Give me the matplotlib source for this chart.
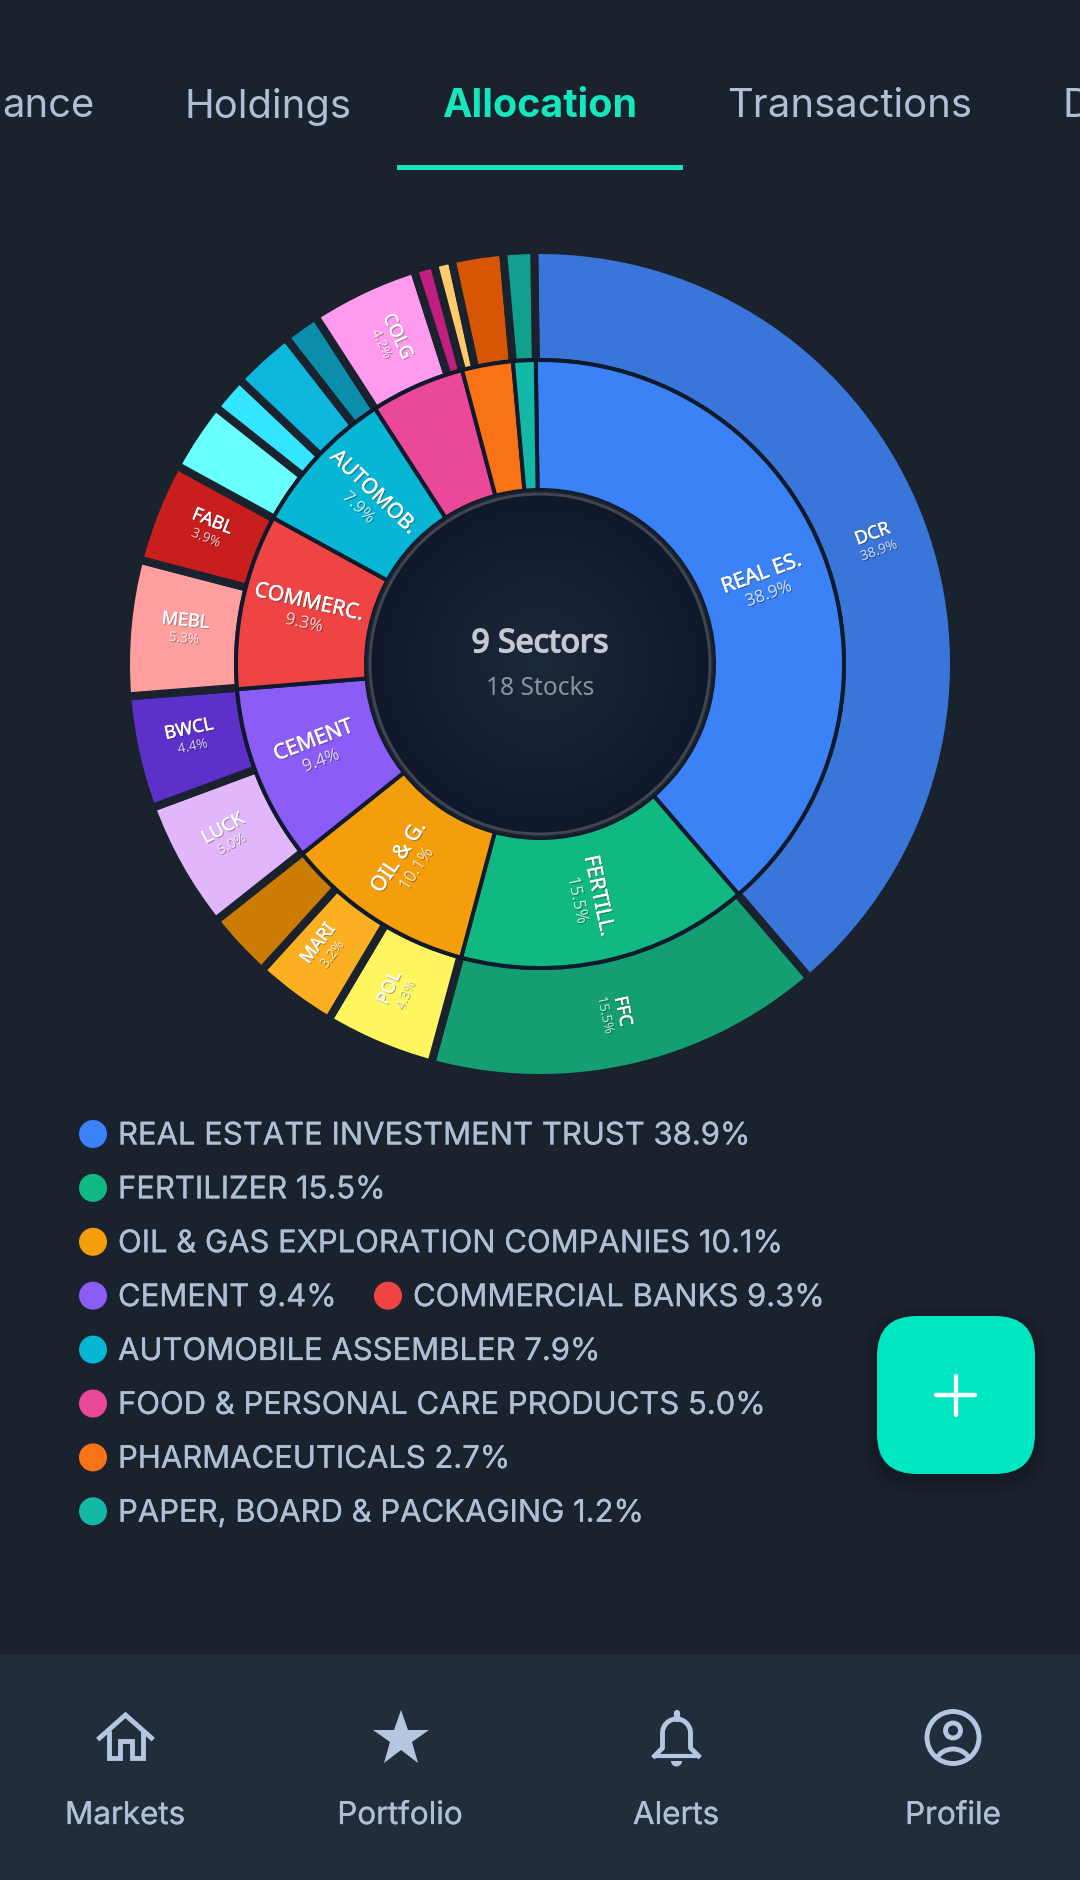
import numpy as np
import matplotlib
matplotlib.use("Agg")
import matplotlib.pyplot as plt
import matplotlib.patheffects as pe
from matplotlib.colors import LinearSegmentedColormap
from matplotlib.patches import Circle, Arc, FancyBboxPatch, Rectangle, Wedge

# sectors (inner ring)
sector_short = ["REAL ES.", "FERTILL.", "OIL & G.", "CEMENT", "COMMERC.", "AUTOMOB.", "", "", ""]
sector_full = ["REAL ESTATE INVESTMENT TRUST", "FERTILIZER", "OIL & GAS EXPLORATION COMPANIES",
               "CEMENT", "COMMERCIAL BANKS", "AUTOMOBILE ASSEMBLER",
               "FOOD & PERSONAL CARE PRODUCTS", "PHARMACEUTICALS", "PAPER, BOARD & PACKAGING"]
sector_vals = [38.9, 15.5, 10.1, 9.4, 9.3, 7.9, 5.0, 2.7, 1.2]
sector_cols = ["#3b82f6", "#10b981", "#f59e0b", "#8b5cf6", "#ef4444", "#06b6d4", "#ec4899", "#f97316", "#14b8a6"]

# stocks (outer ring), small slices carry no label
stock_names = ["DCR", "FFC", "POL", "MARI", "", "LUCK", "BWCL", "MEBL", "FABL",
               "", "", "", "", "COLG", "", "", "", ""]
stock_vals = [38.9, 15.5, 4.3, 3.2, 2.6, 5.0, 4.4, 5.3, 3.9, 2.7, 1.4, 2.4, 1.4, 4.2, 0.8, 0.7, 2.0, 1.2]
stock_cols = ["#3a75d9", "#149f72", "#fff65f", "#fbb021", "#cc7c03", "#e2b6fb", "#5d30ca", "#ff9e9e", "#c81e1e",
              "#67ffff", "#33e5ff", "#0cb6dc", "#0a8eac", "#ff9bee", "#c11f7f", "#ffca6a", "#d75605", "#119f8e"]

# legend rows, two sectors share the fourth row
legend_rows = [[0], [1], [2], [3, 4], [5], [6], [7], [8]]

tab_labels = ["ance", "Holdings", "Allocation", "Transactions", "D"]
nav_labels = ["Markets", "Portfolio", "Alerts", "Profile"]

BG = "#1a222e"
NAV = "#222d3c"
MUTED = "#afbfd6"
ICON = "#b4c6e0"
ACCENT = "#14e6bd"
PX = 0.72  # font points per pixel at dpi 100
START = 90.8

plt.rcParams["font.family"] = ["Inter", "DejaVu Sans"]

fig = plt.figure(figsize=(10.8, 18.8), dpi=100, facecolor=BG)
ax = fig.add_axes([0, 0, 1, 1])
ax.set_xlim(0, 1080)
ax.set_ylim(1880, 0)
ax.axis("off")


def heavier(color, w=0.5):
    return [pe.withStroke(linewidth=w, foreground=color)]


# tabs
tab_y = 106.5
ax.text(94, tab_y, tab_labels[0], ha="right", va="center", fontsize=40 * PX, color=MUTED)
ax.text(268, tab_y, tab_labels[1], ha="center", va="center", fontsize=40 * PX, color=MUTED)
ax.text(540, tab_y, tab_labels[2], ha="center", va="center", fontsize=39.5 * PX, color=ACCENT, fontweight="bold")
ax.text(850, tab_y, tab_labels[3], ha="center", va="center", fontsize=40 * PX, color=MUTED)
ax.text(1063, tab_y, tab_labels[4], ha="left", va="center", fontsize=40 * PX, color=MUTED)
ax.add_patch(Rectangle((397, 164.5), 286, 5, color=ACCENT, lw=0))

# legend
legend_x = [93, 388]
for r, row in enumerate(legend_rows):
    y = 1134 + r * 53.9
    for k, idx in enumerate(row):
        ax.add_patch(Circle((legend_x[k], y), 14, color=sector_cols[idx], lw=0))
        ax.text(legend_x[k] + 25, y + 2.4, f"{sector_full[idx]} {sector_vals[idx]:.1f}%", ha="left", va="center",
                fontsize=31 * PX, color=MUTED, path_effects=heavier(MUTED, 0.2))

# floating button with soft shadow
for grow, alpha in [(14, 0.03), (9, 0.05), (4, 0.08)]:
    ax.add_patch(FancyBboxPatch((877 - grow, 1322 - grow), 158 + 2 * grow, 158 + 2 * grow,
                                boxstyle="round,pad=0,rounding_size=%d" % (40 + grow),
                                fc="black", ec="none", alpha=alpha))
ax.add_patch(FancyBboxPatch((877, 1316), 158, 158, boxstyle="round,pad=0,rounding_size=40", fc="#00e6c3", ec="none"))
ax.plot([936, 975], [1395, 1395], color="white", lw=3.2, solid_capstyle="round")
ax.plot([955.5, 955.5], [1376, 1415], color="white", lw=3.2, solid_capstyle="round")

# bottom nav
ax.add_patch(Rectangle((0, 1654), 1080, 226, color=NAV, lw=0))
nav_x = [125, 400, 676, 953]
for x, lab in zip(nav_x, nav_labels):
    ax.text(x, 1816, lab, ha="center", va="center", fontsize=31.4 * PX, color=MUTED, path_effects=heavier(MUTED, 0.2))

ICON_LW = 3.5
# home icon
cx, cy = 125.5, 1737
ax.plot([cx - 26, cx, cx + 26], [cy + 1, cy - 22, cy + 1], color=ICON, lw=ICON_LW, solid_joinstyle="miter")
ax.plot(np.array([-17, -17, -6, -6, 6, 6, 17, 17]) + cx, np.array([-4, 21, 21, 4, 4, 21, 21, -4]) + cy,
        color=ICON, lw=ICON_LW, solid_joinstyle="miter")
# star icon
ax.plot([400.5], [1739], marker="*", ms=42, color=ICON, mew=0)
# bell icon
cx = 676.5
t = np.linspace(np.pi, 2 * np.pi, 30)
ax.plot(np.r_[cx - 22, cx - 14, cx + 14 * np.cos(t), cx + 14, cx + 22],
        np.r_[1756, 1748, 1733 + 14 * np.sin(t), 1748, 1756], color=ICON, lw=ICON_LW)
ax.plot([cx - 21, cx + 21], [1756, 1756], color=ICON, lw=3, solid_capstyle="round")
ax.plot([cx, cx], [1713, 1719], color=ICON, lw=4.5, solid_capstyle="round")
ax.add_patch(Wedge((cx, 1761), 5.5, 0, 180, color=ICON, lw=0))
# profile icon
cx = 953
ax.add_patch(Circle((cx, 1737.5), 26, fc="none", ec=ICON, lw=ICON_LW))
ax.add_patch(Circle((cx, 1730.5), 7.5, fc="none", ec=ICON, lw=ICON_LW))
ax.add_patch(Arc((cx, 1768.3), 38.6, 38.6, theta1=208, theta2=332, ec=ICON, lw=ICON_LW))

# chart axes: one data unit is one pixel, centre at 540,664
half = 430
ax2 = fig.add_axes([(540 - half) / 1080, (1880 - 664 - half) / 1880, 2 * half / 1080, 2 * half / 1880])
ax2.patch.set_alpha(0)

ax2.pie(stock_vals, colors=stock_cols, radius=414, startangle=START, counterclock=False,
        wedgeprops={"width": 112, "edgecolor": BG, "linewidth": 8 * PX})
ax2.pie(sector_vals, colors=sector_cols, radius=304, startangle=START, counterclock=False,
        wedgeprops={"width": 130, "edgecolor": "#0f1a2c", "linewidth": 4 * PX})

# centre disc
ax2.add_patch(Circle((0, 0), 174, color=BG, lw=0))
n = 200
gx, gy = np.meshgrid(np.linspace(-172, 172, n), np.linspace(-172, 172, n))
cmap = LinearSegmentedColormap.from_list("disc", ["#1c293b", "#10192c"])
img = ax2.imshow(np.hypot(gx, gy), extent=(-172, 172, -172, 172), cmap=cmap, vmin=0, vmax=170, zorder=3)
img.set_clip_path(Circle((0, 0), 169, transform=ax2.transData))
ax2.add_patch(Circle((0, 0), 170, fc="none", ec="#3f4651", lw=3 * PX, zorder=4))
ax2.set_xlim(-half, half)
ax2.set_ylim(-half, half)
ax2.set_aspect("equal")
ax2.axis("off")

noto = ["Noto Sans", "DejaVu Sans"]
ax2.text(0, 20.5, "9 Sectors", ha="center", va="center", family=noto, fontsize=32 * PX, color="#c6cad0",
         path_effects=heavier("#c6cad0", 1.1), zorder=5)
ax2.text(0, -24.5, "18 Stocks", ha="center", va="center", family=noto, fontsize=24.5 * PX, color="#8c94a0", zorder=5)


def ring_labels(names, vals, radius, name_px, pct_px, up, down):
    start = 0
    for name, val in zip(names, vals):
        theta = (start + val / 2) * 3.6
        start += val
        if not name:
            continue
        rot = 90 - theta
        if theta > 180:
            rot += 180
        px = radius * np.sin(np.radians(theta))
        py = radius * np.cos(np.radians(theta))
        nx = -np.sin(np.radians(rot))
        ny = np.cos(np.radians(rot))
        name_fx = [pe.withStroke(linewidth=0.4, foreground="white"),
                   pe.withSimplePatchShadow(offset=(0.8, -0.8), shadow_rgbFace="black", alpha=0.3)]
        pct_fx = [pe.withSimplePatchShadow(offset=(0.8, -0.8), shadow_rgbFace="black", alpha=0.3)]
        ax2.text(px + nx * up, py + ny * up, name, ha="center", va="center", rotation=rot, rotation_mode="anchor",
                 family=noto, fontsize=name_px * PX, color="white", path_effects=name_fx, zorder=5)
        ax2.text(px - nx * down, py - ny * down, f"{val:.1f}%", ha="center", va="center", rotation=rot,
                 rotation_mode="anchor", family=noto, fontsize=pct_px * PX, color=(1, 1, 1, 0.75),
                 path_effects=pct_fx, zorder=5)


ring_labels(sector_short, sector_vals, 239, 21, 17, 9, 13)
ring_labels(stock_names, stock_vals, 357, 18, 13.5, 8.5, 9.5)

fig.savefig("out.png", dpi=100, facecolor=BG)
